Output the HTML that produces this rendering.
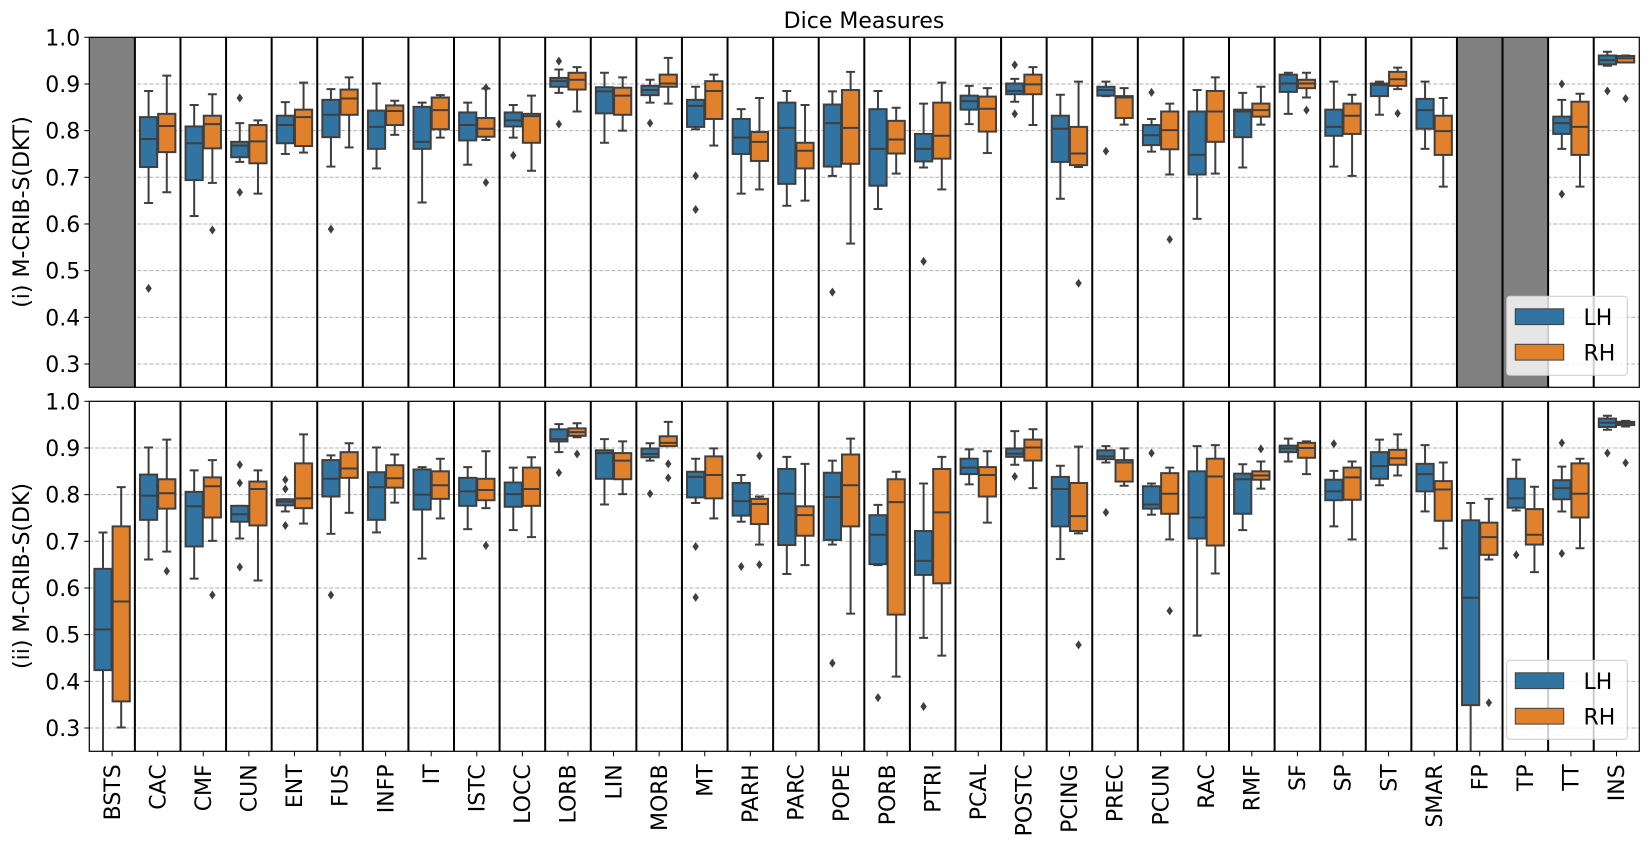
<!DOCTYPE html>
<html><head><meta charset="utf-8"><style>
html,body{margin:0;padding:0;background:#fff;}
svg{display:block;font-family:"DejaVu Sans","Liberation Sans",sans-serif;}
</style></head><body>
<svg id="chart" width="1651" height="852" viewBox="0 0 1651 852" xmlns="http://www.w3.org/2000/svg">
<text x="864" y="28" font-size="22" text-anchor="middle">Dice Measures</text>
<text transform="translate(29,212) rotate(-90)" font-size="22" text-anchor="middle">(i) M-CRIB-S(DKT)</text>
<text transform="translate(29,576) rotate(-90)" font-size="22" text-anchor="middle">(ii) M-CRIB-S(DK)</text>
</svg>
<script>
const categories=["BSTS","CAC","CMF","CUN","ENT","FUS","INFP","IT","ISTC","LOCC","LORB","LIN","MORB","MT","PARH","PARC","POPE","PORB","PTRI","PCAL","POSTC","PCING","PREC","PCUN","RAC","RMF","SF","SP","ST","SMAR","FP","TP","TT","INS"];
const yTicks=[0.3,0.4,0.5,0.6,0.7,0.8,0.9,1.0];
const yTickLabels=["0.3","0.4","0.5","0.6","0.7","0.8","0.9","1.0"];
const legendLabels=["LH","RH"];
// [whisker-low, q1, median, q3, whisker-high]
const dktLH=[null,[0.645,0.722,0.782,0.829,0.885],[0.617,0.694,0.773,0.809,0.855],[0.733,0.743,0.768,0.776,0.816],[0.75,0.773,0.812,0.832,0.861],[0.723,0.786,0.834,0.866,0.889],[0.719,0.761,0.808,0.843,0.901],[0.646,0.761,0.776,0.851,0.86],[0.727,0.779,0.812,0.839,0.86],[0.785,0.809,0.822,0.839,0.855],[0.881,0.894,0.906,0.913,0.931],[0.774,0.837,0.884,0.893,0.924],[0.86,0.876,0.887,0.896,0.909],[0.803,0.808,0.853,0.866,0.894],[0.665,0.75,0.785,0.825,0.846],[0.639,0.686,0.806,0.86,0.885],[0.703,0.723,0.816,0.856,0.884],[0.632,0.682,0.761,0.846,0.885],[0.721,0.734,0.761,0.793,0.858],[0.814,0.845,0.863,0.875,0.896],[0.862,0.878,0.885,0.901,0.911],[0.654,0.733,0.804,0.832,0.877],[0.874,0.875,0.887,0.894,0.905],[0.755,0.769,0.79,0.812,0.825],[0.611,0.706,0.748,0.841,0.887],[0.721,0.786,0.841,0.845,0.881],[0.836,0.883,0.901,0.92,0.924],[0.723,0.789,0.808,0.845,0.905],[0.834,0.874,0.898,0.901,0.905],[0.761,0.804,0.844,0.868,0.905],null,null,[0.761,0.793,0.816,0.83,0.866],[0.939,0.942,0.951,0.961,0.969]];
const dktRH=[null,[0.668,0.754,0.81,0.836,0.918],[0.688,0.762,0.814,0.832,0.878],[0.665,0.73,0.777,0.812,0.822],[0.753,0.767,0.829,0.845,0.903],[0.764,0.834,0.869,0.888,0.914],[0.791,0.812,0.842,0.854,0.864],[0.785,0.803,0.844,0.871,0.876],[0.78,0.787,0.804,0.827,0.89],[0.714,0.774,0.831,0.836,0.875],[0.841,0.888,0.909,0.924,0.936],[0.8,0.834,0.875,0.892,0.914],[0.858,0.894,0.901,0.92,0.956],[0.768,0.825,0.885,0.906,0.92],[0.674,0.735,0.776,0.797,0.87],[0.65,0.719,0.757,0.774,0.855],[0.558,0.729,0.806,0.887,0.926],[0.708,0.751,0.781,0.821,0.849],[0.674,0.74,0.789,0.86,0.903],[0.752,0.798,0.847,0.873,0.891],[0.812,0.878,0.899,0.92,0.936],[0.722,0.726,0.751,0.808,0.905],[0.813,0.827,0.871,0.874,0.891],[0.706,0.76,0.801,0.841,0.858],[0.708,0.776,0.841,0.885,0.914],[0.813,0.83,0.844,0.858,0.894],[0.871,0.891,0.901,0.909,0.924],[0.703,0.793,0.832,0.858,0.877],[0.889,0.896,0.91,0.926,0.935],[0.68,0.748,0.799,0.832,0.87],null,null,[0.68,0.748,0.808,0.862,0.879],[0.946,0.946,0.955,0.96,0.961]];
const dktLHOut=[[],[0.462],[],[0.87,0.668],[],[0.589],[],[],[],[0.747],[0.949,0.814],[],[0.816],[0.703,0.631],[],[],[0.454],[],[0.52],[],[0.941,0.836],[],[0.756],[0.882],[],[],[],[],[],[],[],[],[0.9,0.664],[0.885]];
const dktRHOut=[[],[],[0.587],[],[],[],[],[],[0.892,0.689],[],[],[],[],[],[],[],[],[],[],[],[],[0.473],[],[0.567],[],[],[0.844],[],[0.837],[],[],[],[],[0.869]];
const dkLH=[[0.2,0.424,0.511,0.641,0.719],[0.661,0.746,0.798,0.843,0.901],[0.62,0.689,0.775,0.806,0.852],[0.706,0.742,0.758,0.776,0.776],[0.764,0.777,0.785,0.79,0.79],[0.716,0.796,0.834,0.874,0.884],[0.719,0.746,0.816,0.848,0.901],[0.663,0.768,0.8,0.854,0.859],[0.726,0.776,0.807,0.836,0.859],[0.724,0.774,0.801,0.826,0.858],[0.891,0.914,0.919,0.94,0.951],[0.779,0.834,0.889,0.895,0.919],[0.873,0.88,0.887,0.899,0.91],[0.782,0.794,0.838,0.849,0.877],[0.742,0.755,0.786,0.825,0.842],[0.63,0.692,0.802,0.855,0.881],[0.693,0.703,0.795,0.847,0.873],[0.649,0.651,0.714,0.756,0.778],[0.493,0.628,0.658,0.722,0.824],[0.822,0.844,0.858,0.877,0.897],[0.864,0.881,0.888,0.899,0.936],[0.662,0.732,0.812,0.838,0.862],[0.869,0.876,0.882,0.895,0.904],[0.757,0.77,0.779,0.818,0.824],[0.498,0.706,0.751,0.85,0.904],[0.724,0.759,0.833,0.845,0.865],[0.871,0.891,0.899,0.905,0.92],[0.732,0.788,0.807,0.832,0.851],[0.82,0.834,0.861,0.891,0.918],[0.764,0.807,0.844,0.866,0.906],[0.2,0.349,0.579,0.745,0.782],[0.766,0.772,0.792,0.834,0.875],[0.764,0.79,0.814,0.831,0.86],[0.939,0.945,0.954,0.963,0.969]];
const dkRH=[[0.301,0.357,0.571,0.732,0.816],[0.678,0.77,0.803,0.833,0.918],[0.701,0.751,0.818,0.837,0.874],[0.616,0.734,0.812,0.828,0.852],[0.738,0.771,0.792,0.867,0.929],[0.761,0.836,0.856,0.891,0.91],[0.783,0.815,0.835,0.863,0.886],[0.749,0.791,0.82,0.85,0.877],[0.771,0.788,0.81,0.834,0.893],[0.709,0.776,0.812,0.858,0.88],[0.923,0.926,0.934,0.942,0.953],[0.801,0.833,0.873,0.889,0.914],[0.904,0.904,0.911,0.925,0.956],[0.749,0.792,0.842,0.882,0.899],[0.693,0.737,0.78,0.791,0.796],[0.649,0.712,0.756,0.775,0.866],[0.545,0.732,0.82,0.886,0.92],[0.41,0.543,0.784,0.833,0.849],[0.455,0.61,0.762,0.855,0.881],[0.74,0.796,0.842,0.859,0.893],[0.814,0.873,0.901,0.918,0.94],[0.717,0.722,0.754,0.825,0.903],[0.819,0.828,0.869,0.874,0.899],[0.704,0.759,0.802,0.846,0.858],[0.631,0.691,0.839,0.877,0.906],[0.813,0.832,0.841,0.85,0.871],[0.844,0.879,0.9,0.911,0.914],[0.704,0.789,0.837,0.858,0.871],[0.841,0.864,0.878,0.896,0.929],[0.685,0.744,0.811,0.829,0.869],[0.661,0.671,0.709,0.74,0.791],[0.634,0.693,0.714,0.769,0.817],[0.685,0.751,0.802,0.867,0.877],[0.946,0.949,0.953,0.956,0.958]];
const dkLHOut=[[],[],[],[0.864,0.825,0.645],[0.832,0.812,0.734],[0.585],[],[],[],[],[0.847],[],[0.802],[0.689,0.58],[0.646],[],[0.439],[0.365],[0.346],[],[0.839],[],[0.762],[0.889],[],[],[],[0.909],[],[],[],[0.671],[0.911,0.674],[0.889]];
const dkRHOut=[[],[0.636],[0.585],[],[],[],[],[],[0.691],[],[0.887],[],[0.866,0.836],[],[0.883,0.65],[],[],[],[],[],[],[0.478],[],[0.551],[],[0.898],[],[],[],[],[0.354],[],[],[0.868]];
const greyTop=["BSTS","FP","TP"];

const NS="http://www.w3.org/2000/svg";
const svg=document.getElementById('chart');
const X0=89.3,X1=1639.3,CW=(X1-X0)/categories.length;
const colors=["#3274a1","#e1812c"],EDGE="#3f3f3f";
function mk(tag,attrs,parent){const e=document.createElementNS(NS,tag);for(const k in attrs)e.setAttribute(k,attrs[k]);(parent||svg).appendChild(e);return e;}
function xC(i){return X0+CW*(i+0.5);}
function drawPanel(pi,top,LH,RH,LHo,RHo,greys,showX){
  const bot=top+350;
  const yS=v=>top+(1-v)*466.7;
  const g=mk('g',{});
  
  
  const cid='clip'+pi;
  const cp=mk('clipPath',{id:cid},g);
  mk('rect',{x:X0,y:top,width:X1-X0,height:350},cp);
  const pg=mk('g',{'clip-path':'url(#'+cid+')'},g);
  yTicks.forEach((t,k)=>{
    const gl=mk('line',{x1:X0,x2:X1,y1:yS(t),y2:yS(t),stroke:"#b0b0b0","stroke-width":1,"stroke-dasharray":"4,2"},pg);
    
    
    const tm=mk('line',{x1:X0-5,x2:X0,y1:yS(t),y2:yS(t),stroke:"#000","stroke-width":1},g);
    
    
    const tl=mk('text',{x:X0-9,y:yS(t)+8,"font-size":22,"text-anchor":"end"},g);
    tl.textContent=yTickLabels[k];
    
    
  });
  categories.forEach((c,i)=>{
    if(greys.indexOf(c)>=0){
      const r=mk('rect',{x:X0+CW*i,y:top,width:CW,height:350,fill:"#808080"},pg);
      
      
    }
  });
  for(let i=1;i<categories.length;i++){
    const l=mk('line',{x1:X0+CW*i,x2:X0+CW*i,y1:top,y2:bot,stroke:"#000","stroke-width":2},pg);
    
    
  }
  const series=[[LH,LHo],[RH,RHo]];
  categories.forEach((c,i)=>{
    series.forEach((s,h)=>{
      const d=s[0][i];
      const cx=xC(i)+(h===0?-9.1:9.1);
      const bg=mk('g',{},pg);
      
      
      if(d){
        const [wl,q1,md,q3,wh]=d;
        mk('line',{x1:cx,x2:cx,y1:yS(wh),y2:yS(q3),stroke:EDGE,"stroke-width":2},bg);
        mk('line',{x1:cx,x2:cx,y1:yS(q1),y2:yS(wl),stroke:EDGE,"stroke-width":2},bg);
        mk('line',{x1:cx-4.5,x2:cx+4.5,y1:yS(wh),y2:yS(wh),stroke:EDGE,"stroke-width":2},bg);
        mk('line',{x1:cx-4.5,x2:cx+4.5,y1:yS(wl),y2:yS(wl),stroke:EDGE,"stroke-width":2},bg);
        mk('rect',{x:cx-8.6,y:yS(q3),width:17.2,height:Math.max(yS(q1)-yS(q3),0.5),fill:colors[h],stroke:EDGE,"stroke-width":2},bg);
        mk('line',{x1:cx-8.6,x2:cx+8.6,y1:yS(md),y2:yS(md),stroke:EDGE,"stroke-width":2},bg);
      }
      s[1][i].forEach(o=>{
        const y=yS(o);
        const p=mk('path',{d:`M${cx},${y-4.5}L${cx+3.2},${y}L${cx},${y+4.5}L${cx-3.2},${y}Z`,fill:EDGE},bg);
        
        
      });
    });
  });
  const fr=mk('rect',{x:X0,y:top,width:X1-X0,height:350,fill:"none",stroke:"#000","stroke-width":1.2},g);
  
  
  if(showX){
    categories.forEach((c,i)=>{
      const tm=mk('line',{x1:xC(i),x2:xC(i),y1:bot,y2:bot+5,stroke:"#000","stroke-width":1},g);
      
      
      const t=mk('text',{x:xC(i),y:bot+13,"font-size":22,"text-anchor":"end",dy:"0.35em",transform:`rotate(-90 ${xC(i)} ${bot+13})`},g);
      t.textContent=c;
      
      
    });
  }
  // legend
  const lg=mk('g',{},g);
  
  
  const ly=top+259;
  mk('rect',{x:1506.7,y:ly,width:120.6,height:79,rx:3,fill:"#fff","fill-opacity":0.8,stroke:"#cccccc","stroke-width":1},lg);
  legendLabels.forEach((lab,h)=>{
    const e=mk('g',{},lg);
    
    
    mk('rect',{x:1515.3,y:ly+12.5+h*35.5,width:48.4,height:15.8,fill:colors[h],stroke:EDGE,"stroke-width":1},e);
    const t=mk('text',{x:1583.5,y:ly+28.5+h*35.5,"font-size":22},e);
    t.textContent=lab;
  });
}
drawPanel(0,37.3,dktLH,dktRH,dktLHOut,dktRHOut,greyTop,false);
drawPanel(1,401.3,dkLH,dkRH,dkLHOut,dkRHOut,[],true);
</script>
</body></html>
